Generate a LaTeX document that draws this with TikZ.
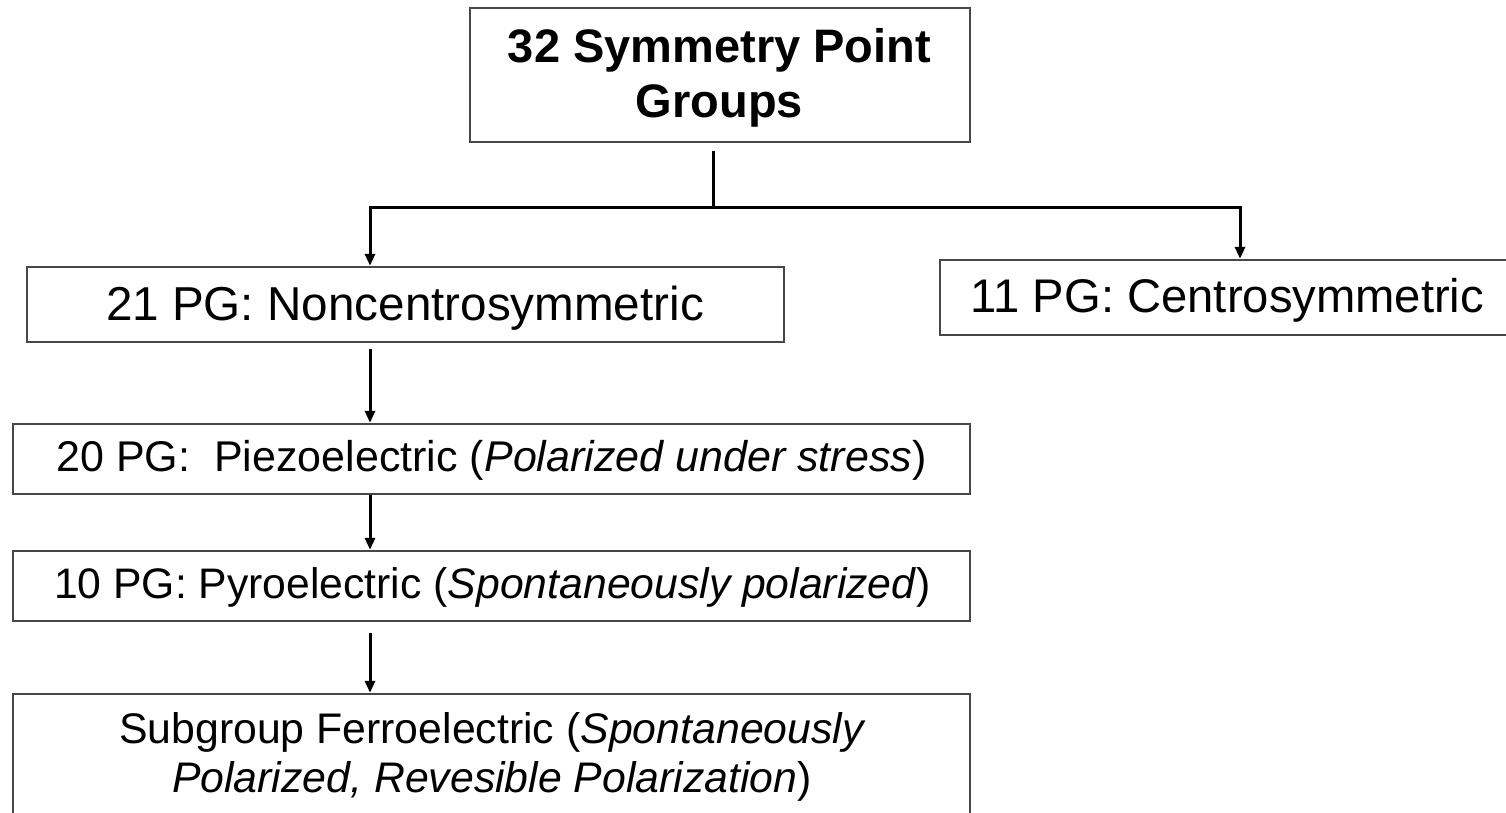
\documentclass[tikz,border=0pt]{standalone}
\usepackage{fontspec}
\setmainfont{Liberation Sans}
\usetikzlibrary{arrows.meta}
\begin{document}
\begin{tikzpicture}[x=1pt,y=-1pt,
  box/.style={draw=black!72,line width=2.4pt,inner sep=0pt},
  lbl/.style={inner sep=0pt,anchor=base},
  conn/.style={line width=3pt,black},
  arr/.style={conn,-{Triangle[length=12pt,width=10pt]}},
  darr/.style={conn,{Triangle[length=12pt,width=10pt]}-{Triangle[length=12pt,width=10pt]}}]
\useasboundingbox[fill=white] (0,0) rectangle (1506,813);
% boxes
\node[box,minimum width=500pt,minimum height=134pt] (top) at (720,75) {};
\node[box,minimum width=757pt,minimum height=75pt] (n21) at (405.5,304.5) {};
\node[box,minimum width=580pt,minimum height=75pt] (n11) at (1230,297.5) {};
\node[box,minimum width=957pt,minimum height=70pt] (n20) at (491.5,459) {};
\node[box,minimum width=957pt,minimum height=70pt] (n10) at (491.5,586) {};
\node[box,minimum width=957pt,minimum height=130pt] (nsub) at (491.5,759) {};
% texts
\node[lbl,font=\fontsize{47}{56}\selectfont\bfseries] (ttop1) at (719.5,63) {32 Symmetry Point};
\node[lbl,font=\fontsize{47}{56}\selectfont\bfseries] (ttop2) at (719.5,118) {Groups};
\node[lbl,font=\fontsize{47.6}{50}\selectfont] (t21) at (405,320) {21 PG: Noncentrosymmetric};
\node[lbl,font=\fontsize{47.2}{50}\selectfont] (t11) at (1227.5,312) {11 PG: Centrosymmetric};
\node[lbl,font=\fontsize{43}{45}\selectfont] (t20) at (491.5,471.5) {20 PG:\ \ Piezoelectric (\textit{Polarized under stress})};
\node[lbl,font=\fontsize{42.7}{45}\selectfont] (t10) at (492.5,598.5) {10 PG: Pyroelectric (\textit{Spontaneously polarized})};
\node[lbl,font=\fontsize{42.8}{45}\selectfont] (tsub1) at (492.5,743) {Subgroup Ferroelectric (\textit{Spontaneously}};
\node[lbl,font=\fontsize{42.8}{45}\selectfont] (tsub2) at (492,792) {\textit{Polarized, Revesible Polarization})};
% connectors
\coordinate (j) at (713,207);
\coordinate (jl) at (370,207);
\coordinate (jr) at (1240,207);
\draw[conn] ([yshift=-8pt]top.south -| j) -- (j);
\draw[darr] (jl |- n21.north) -- (jl) -- (jr) -- (jr |- n11.north);
\draw[arr] ([yshift=-6pt]n21.south -| jl) -- (n20.north -| jl);
\draw[arr] (n20.south -| jl) -- (n10.north -| jl);
\draw[arr] ([yshift=-11pt]n10.south -| jl) -- (nsub.north -| jl);
\end{tikzpicture}
\end{document}
